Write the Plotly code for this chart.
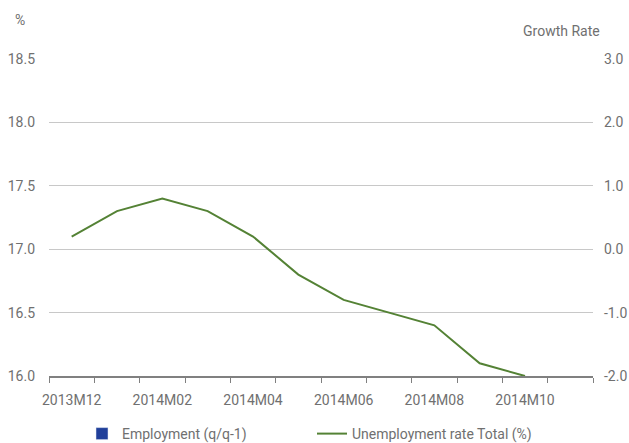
import plotly.graph_objects as go

months = ["2013M12", "2014M01", "2014M02", "2014M03", "2014M04", "2014M05",
          "2014M06", "2014M07", "2014M08", "2014M09", "2014M10", "2014M11"]
unemployment = [17.1, 17.3, 17.4, 17.3, 17.1, 16.8, 16.6, 16.5, 16.4, 16.1, 16.0, None]
employment = [None] * 12
left_ticks = [16.0, 16.5, 17.0, 17.5, 18.0, 18.5]
right_ticks = [-2.0, -1.0, 0.0, 1.0, 2.0, 3.0]
right_tick_text = ["-2.0", "-1.0", "0.0", "1.0", "2.0", "3.0"]

text_col = "#707070"
font_family = "Roboto, Open Sans, sans-serif"

W, H = 629, 443
L, T = 49, 59
R = W - 593
B = H - 376
plot_w = W - L - R
plot_h = H - T - B


def px_x(x):
    return (x - L) / plot_w


def px_y(y):
    return (H - B - y) / plot_h


fig = go.Figure()
fig.add_trace(go.Bar(x=months, y=employment, name="Employment (q/q-1)",
                     marker_color="#203f9a", yaxis="y2"))
fig.add_trace(go.Scatter(x=months, y=unemployment, name="Unemployment rate Total (%)",
                         mode="lines", line=dict(color="#548235", width=2),
                         connectgaps=False))

fig.update_layout(
    width=W, height=H,
    margin=dict(l=L, r=R, t=T, b=B, autoexpand=False),
    plot_bgcolor="white", paper_bgcolor="white",
    font=dict(family=font_family, size=14, color=text_col),
    showlegend=True,
    legend=dict(orientation="h", xref="container", yref="container",
                x=82 / W, xanchor="left",
                y=1 - 434 / H, yanchor="middle",
                font=dict(size=14, color=text_col), itemwidth=30,
                traceorder="normal", entrywidth=185, entrywidthmode="pixels",
                bgcolor="rgba(0,0,0,0)"),
    xaxis=dict(type="category", range=[-0.5, 11.5], tickson="boundaries",
               ticks="outside", ticklen=5, tickcolor="#808080", tickwidth=1,
               ticklabelstep=2, dtick=1, tickangle=0, automargin=False,
               ticklabelstandoff=10,
               showgrid=False, showline=True, linecolor="#808080",
               linewidth=2, tickfont=dict(size=14, color=text_col)),
    yaxis=dict(range=[16.0, 18.5], tickvals=left_ticks, tickformat=".1f",
               automargin=False,
               showgrid=True, gridcolor="#c8c8c8", gridwidth=1,
               zeroline=False, showline=False, ticks="",
               ticklabelstandoff=13, tickfont=dict(size=14, color=text_col)),
    yaxis2=dict(range=[-2.0, 3.0], tickvals=right_ticks, ticktext=right_tick_text,
                overlaying="y",
                side="right", showgrid=False, zeroline=False, showline=False,
                automargin=False,
                ticks="", ticklabelstandoff=10, tickfont=dict(size=14, color=text_col)),
)
fig.add_annotation(text="%", x=px_x(19.5), y=px_y(20),
                   xref="paper", yref="paper", showarrow=False,
                   xanchor="center", yanchor="middle", font=dict(size=14, color=text_col))
fig.add_annotation(text="Growth Rate", x=px_x(602), y=px_y(31),
                   xref="paper", yref="paper", showarrow=False,
                   xanchor="right", yanchor="middle", font=dict(size=14, color=text_col))

fig.write_html("out.html",
               config={"displayModeBar": False},
               post_script="document.body.style.margin='0';"
                           "document.body.style.overflow='hidden';")
